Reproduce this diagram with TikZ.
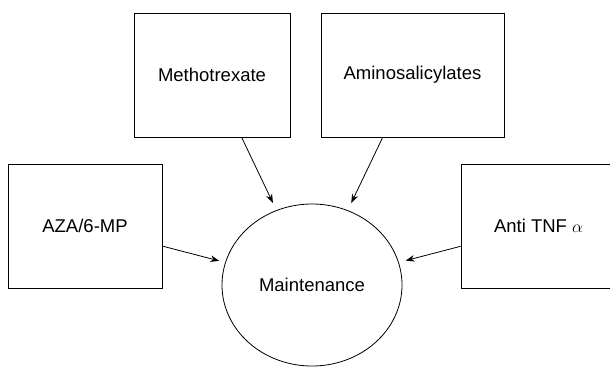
\documentclass[tikz,border=0pt]{standalone}
\usepackage{fontspec}
\setmainfont{Liberation Sans}
\usetikzlibrary{shapes.geometric,arrows.meta}
\begin{document}
\begin{tikzpicture}[x=1pt,y=-1pt,line width=0.8pt,>={Stealth[length=9pt,width=6.5pt]},
	font=\fontsize{18.5}{22}\selectfont,
	drug/.style={draw,rectangle,minimum height=124pt,inner sep=0pt},
	goal/.style={draw,ellipse,minimum width=180pt,minimum height=162pt,inner sep=0pt}]
	\useasboundingbox (0,0) rectangle (610,367);
	% treatment boxes
	\node[drug,minimum width=156pt] (metho) at (212,75) {Methotrexate};
	\node[drug,minimum width=183pt] (amino) at (412.5,75) {Aminosalicylates};
	\node[drug,minimum width=154pt] (aza) at (85,226) {AZA/6-MP};
	\node[drug,minimum width=155pt] (anti) at (538.5,226) {Anti TNF $\alpha$};
	% goal
	\node[goal] (maint) at (312,285) {Maintenance};
	% arrows
	\draw[->,shorten >=8pt] (metho) -- (maint);
	\draw[->,shorten >=8pt] (amino) -- (maint);
	\draw[->,shorten >=6pt] (aza) -- (maint);
	\draw[->,shorten >=7pt] (anti) -- (maint);
\end{tikzpicture}
\end{document}
